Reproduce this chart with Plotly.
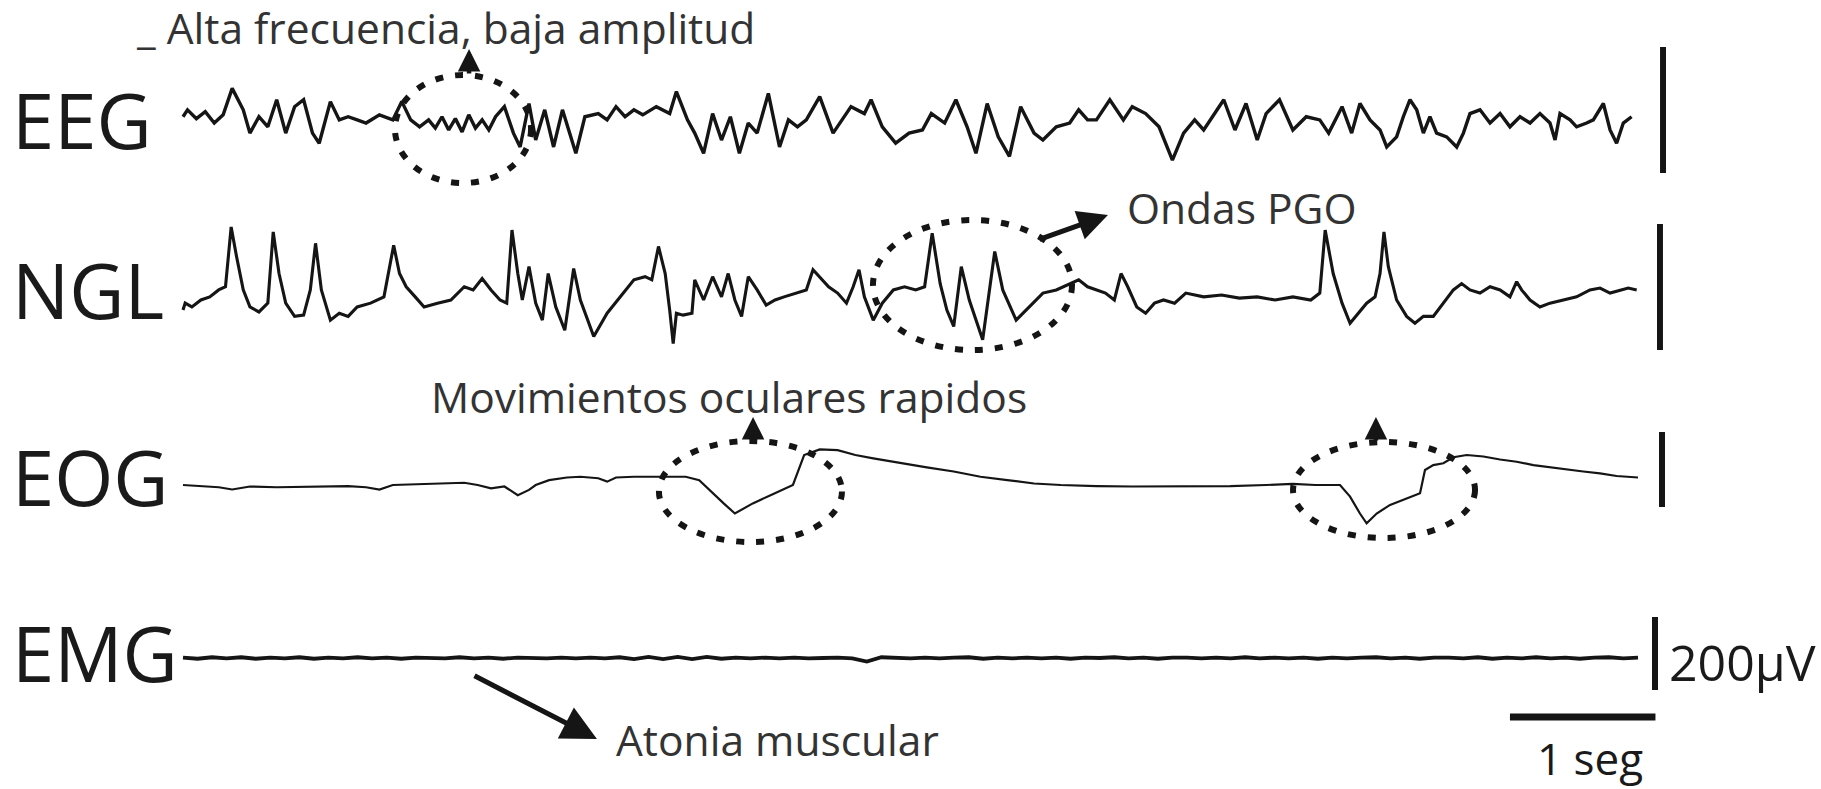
import numpy as np
import plotly.graph_objects as go

# ------------------------------------------------------------------ data
# time (s) and amplitude (microvolts)
eeg_t = [0.00,0.031,0.092,0.153,0.215,0.276,0.338,0.414,0.460,0.522,0.583,0.644,0.706,0.767,0.829,0.890,0.936,1.013,1.074,1.135,
         1.197,1.258,1.350,1.442,1.504,1.565,1.626,1.688,1.734,1.780,1.826,1.872,1.918,1.964,2.010,2.056,2.102,2.148,2.209,2.271,
         2.317,2.378,2.424,2.486,2.547,2.608,2.700,2.762,2.854,2.915,2.976,3.038,3.099,3.160,3.253,3.345,3.391,3.467,
         3.517,3.578,3.640,3.701,3.762,3.824,3.885,3.946,4.023,4.100,4.161,4.223,4.284,4.376,4.468,4.529,4.591,4.683,4.729,4.806,
         4.898,4.990,5.082,5.143,5.235,5.312,5.389,5.450,5.527,5.603,5.680,5.757,5.849,5.910,6.002,6.094,6.156,6.217,6.278,6.370,
         6.463,6.524,6.616,6.708,6.800,6.877,6.953,7.015,7.076,7.153,7.230,7.306,7.383,7.444,7.536,7.628,7.720,7.813,7.874,7.966,
         8.032,8.089,8.158,8.227,8.273,8.341,8.387,8.433,8.479,8.525,8.570,8.616,8.685,8.754,8.800,8.845,8.914,8.983,9.052,9.120,
         9.189,9.258,9.326,9.395,9.430,9.464,9.533,9.578,9.647,9.693,9.762,9.808,9.853,9.899,9.956]
eeg_uv = [2,13,-1,10,-8,5,47,13,-24,2,-14,29,-24,18,29,-24,-40,26,-3,2,
          -3,-8,5,-3,26,-3,-14,-3,-16,2,-19,-1,-22,5,-16,-3,-19,2,18,-24,
          -46,23,-35,13,-46,13,-56,2,7,-3,18,2,13,5,18,7,42,-3,
          -24,-56,7,-35,2,-56,-8,-24,39,-46,-3,-14,-3,34,-24,-3,18,7,29,-14,
          -40,-24,-19,7,-8,29,-14,-56,23,-30,-61,18,-24,-35,-14,-8,13,-3,-3,29,
          -3,18,7,-14,-67,-24,-3,-19,2,29,-19,23,-35,7,29,-19,2,-3,-24,18,
          -24,23,-3,-19,-46,-30,2,29,13,-24,2,-24,-30,-46,-24,7,13,-8,7,-14,
          2,-8,7,-8,-35,7,-3,-14,-8,-3,23,-19,-40,-8,2]

ngl_t = [0.00,0.015,0.061,0.123,0.184,0.245,0.292,0.331,0.368,0.414,0.460,0.522,0.583,0.620,0.660,0.706,0.767,0.829,0.875,0.911,
         0.951,1.013,1.074,1.135,1.197,1.289,1.381,1.448,1.488,1.534,1.596,1.657,1.749,1.841,1.933,1.994,2.056,2.117,2.179,2.225,
         2.261,2.301,2.332,2.378,2.424,2.470,2.510,2.562,2.624,2.685,2.731,2.823,2.915,3.007,3.099,3.176,3.222,3.268,3.314,3.345,
         3.369,3.391,3.437,3.498,
         3.517,3.578,3.640,3.701,3.747,3.793,3.839,3.885,3.946,4.008,4.069,4.131,4.223,4.284,4.330,4.376,4.437,4.499,4.560,4.606,
         4.646,4.683,4.744,4.806,4.882,4.959,5.036,5.097,5.149,5.204,5.250,5.297,5.349,5.404,5.496,5.579,5.634,5.726,5.818,5.910,
         6.002,6.094,6.156,6.217,6.278,6.340,6.401,6.447,6.493,6.555,6.616,6.677,6.739,6.815,6.892,7.015,7.138,7.260,7.383,7.506,
         7.628,7.751,7.813,7.850,7.905,7.966,
         8.021,8.078,8.135,8.193,8.227,8.254,8.284,8.341,8.410,8.467,8.525,8.593,8.662,8.731,8.788,8.845,8.914,8.983,9.052,9.120,
         9.166,9.200,9.258,9.326,9.395,9.487,9.578,9.670,9.739,9.808,9.876,9.933,9.991]
ngl_uv = [-16,-5,-11,0,5,16,21,116,69,16,-11,-19,-5,108,42,-5,-26,-24,16,90,
          16,-32,-21,-26,-11,-5,5,87,42,21,5,-11,-5,0,21,16,34,16,0,-5,
          111,42,0,53,-5,-32,42,-11,-48,50,0,-58,-21,5,32,37,32,85,42,-16,
          -69,-21,-24,-21,
          32,0,37,5,42,0,-26,37,16,-8,0,5,11,16,48,37,21,11,-5,21,
          48,5,-32,-5,16,21,16,21,106,26,-16,-42,53,0,-63,77,16,-32,-11,11,
          16,26,32,21,16,11,0,42,21,-11,-21,-5,0,-5,11,5,8,3,5,0,
          5,0,11,111,42,-5,
          -37,-21,-5,5,42,108,53,0,-26,-37,-26,-26,-5,16,26,16,11,21,16,5,
          29,16,0,-11,-5,0,5,16,19,11,16,19,16]

eog_t = [0.00,0.123,0.246,0.338,0.460,0.644,0.890,1.135,1.258,1.350,1.442,1.657,1.810,1.933,2.025,2.117,2.209,2.301,2.378,2.424,
         2.516,2.639,2.731,2.854,2.915,2.976,3.099,3.222,3.314,3.406,
         3.455,3.548,3.640,3.716,3.793,3.916,4.038,4.192,4.269,4.376,4.499,4.621,4.744,4.928,5.112,5.297,5.481,5.665,5.849,6.033,
         6.278,6.524,6.739,6.953,7.199,7.444,7.628,7.782,
         7.952,8.021,8.089,8.135,8.204,8.296,8.410,8.502,8.536,8.593,8.662,8.731,8.823,8.937,9.052,9.166,9.281,9.395,9.510,9.624,
         9.739,9.853,10.0]
eog_uv = [0,-3,-6,-12,-4,-6,-4,-3,-6,-12,0,3,4,6,0,-9,-4,-27,-13,0,
          13,20,22,18,9,20,22,22,24,22,
          22,13,-22,-49,-76,-49,-27,0,80,95,93,80,71,58,47,36,22,13,4,0,
          -3,-4,-4,-4,-3,0,3,0,
          0,-31,-76,-102,-76,-53,-36,-22,40,53,58,74,80,76,68,62,53,47,42,36,
          31,24,20]

emg_t = np.round(np.arange(0, 10.0001, 0.1), 2)
emg_uv = [1,-2,2,-1,2,-2,1,-1,2,-2,
          1,-1,2,-1,1,-2,1,0,-1,2,
          -1,1,-2,1,0,-1,1,-1,1,-1,
          2,-3,3,-3,3,-3,3,-2,1,-1,
          1,-1,1,-1,0,1,-1,-10,2,1,
          -1,1,-1,1,2,-2,1,-1,1,-1,
          1,-2,1,0,2,-1,1,-2,1,1,
          -1,1,-1,2,-1,1,-1,1,-2,1,
          -1,1,2,-1,1,-2,1,1,-1,2,
          -2,1,-1,2,-1,1,-2,1,2,-1,1]

channels = ["EEG", "NGL", "EOG", "EMG"]
scale_uv = 200
scale_s = 1

for a, b in [(eeg_t, eeg_uv), (ngl_t, ngl_uv), (eog_t, eog_uv), (emg_t, emg_uv)]:
    assert len(a) == len(b), (len(a), len(b))

# ------------------------------------------------------------------ layout constants
W, H = 1821, 789
PX_PER_S = 145.5
X0 = 183
x_range = [-X0 / PX_PER_S, (W - X0) / PX_PER_S]
base = {"EEG": 671, "NGL": 489, "EOG": 304, "EMG": 131}
gain = {"EEG": 0.63, "NGL": 0.63, "EOG": 0.375, "EMG": 0.365}
bar_x = {"EEG": 10.172, "NGL": 10.151, "EOG": 10.165, "EMG": 10.117}
bar_y0 = {"EEG": 616, "NGL": 439, "EOG": 282, "EMG": 99}
label_y = {"EEG": 670, "NGL": 500, "EOG": 313, "EMG": 137}
line_w = {"EEG": 3.4, "NGL": 3.1, "EOG": 2.2, "EMG": 3.8}
INK = "#151515"
TXT = "#333333"
FONT = "Open Sans"

series = {"EEG": (eeg_t, eeg_uv), "NGL": (ngl_t, ngl_uv),
          "EOG": (eog_t, eog_uv), "EMG": (emg_t, emg_uv)}

fig = go.Figure()
for ch in channels:
    t, uv = series[ch]
    y = base[ch] + gain[ch] * np.asarray(uv, dtype=float)
    fig.add_trace(go.Scatter(x=t, y=y, mode="lines", name=ch,
                             line=dict(color=INK, width=line_w[ch]),
                             hoverinfo="skip", showlegend=False))

shapes = []
# calibration bars (200 uV each channel)
for ch in channels:
    shapes.append(dict(type="line", xref="x", yref="y", x0=bar_x[ch], x1=bar_x[ch],
                       y0=bar_y0[ch], y1=bar_y0[ch] + scale_uv * gain[ch],
                       line=dict(color=INK, width=6)))
# 1 s bar
shapes.append(dict(type="line", xref="x", yref="y", x0=9.12, x1=9.12 + scale_s,
                   y0=72, y1=72, line=dict(color=INK, width=7)))
# dotted ellipses
dots = dict(color=INK, width=6, dash="8px,12px")
for (x0, x1, y0, y1) in [(1.457, 2.392, 606, 714),
                         (4.742, 6.110, 439, 569),
                         (3.271, 4.529, 247, 348),
                         (7.629, 8.880, 251, 347)]:
    shapes.append(dict(type="circle", xref="x", yref="y", x0=x0, x1=x1, y0=y0, y1=y1,
                       line=dots, fillcolor="rgba(0,0,0,0)"))

ann = []
for ch in channels:
    ann.append(dict(x=-1.19, y=label_y[ch], xref="x", yref="y", text=ch, showarrow=False,
                    xanchor="left", yanchor="middle",
                    font=dict(family=FONT, size=76, color="#1a1a1a")))

def txt(x, y, s, size=42.5, color=TXT, xanchor="left"):
    ann.append(dict(x=x, y=y, xref="x", yref="y", text=s, showarrow=False,
                    xanchor=xanchor, yanchor="middle",
                    font=dict(family=FONT, size=size, color=color)))

txt(-0.34, 762, "_ Alta frecuencia, baja amplitud")
txt(6.474, 582, "Ondas PGO")
txt(1.690, 393, "Movimientos oculares rapidos")
txt(2.960, 50, "Atonia muscular")
txt(10.199, 127, "200µV", size=50, color="#1a1a1a")
txt(9.67, 31, "1 seg", size=44, color="#1a1a1a", xanchor="center")

def arrow(xh, yh, xt, yt, w=4.5, size=1.0):
    ann.append(dict(x=xh, y=yh, ax=xt, ay=yt, xref="x", yref="y", axref="x", ayref="y",
                    text="", showarrow=True, arrowhead=2, arrowsize=size,
                    arrowwidth=w, arrowcolor=INK, standoff=0, startstandoff=0))

arrow(1.966, 740, 1.966, 714, w=4.5, size=1.0)
arrow(3.918, 372, 3.918, 348, w=4.5, size=1.0)
arrow(8.199, 372, 8.199, 347, w=4.5, size=1.0)
arrow(6.357, 574, 5.876, 549, w=5, size=1.2)
arrow(2.845, 50, 1.993, 114, w=5, size=1.4)

fig.update_layout(
    width=W, height=H, margin=dict(l=0, r=0, t=0, b=0),
    paper_bgcolor="white", plot_bgcolor="white",
    xaxis=dict(range=x_range, visible=False, fixedrange=True),
    yaxis=dict(range=[0, H], visible=False, fixedrange=True),
    shapes=shapes, annotations=ann, showlegend=False,
)

fig.write_html("out.html", config={"displayModeBar": False},
               post_script="document.body.style.margin='0';document.body.style.overflow='hidden';")
